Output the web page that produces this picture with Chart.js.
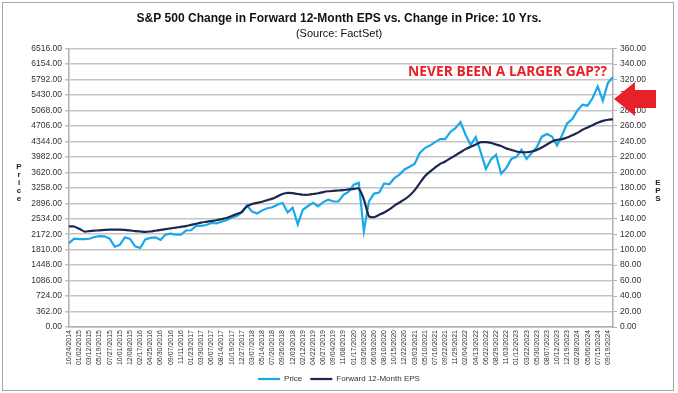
<!DOCTYPE html>
<html>
<head>
<meta charset="utf-8">
<script src="https://cdn.jsdelivr.net/npm/chart.js@4.4.1/dist/chart.umd.min.js"></script>
<style>
  html, body { margin: 0; padding: 0; background: #fff; }
  #wrap { width: 678px; height: 393px; }
</style>
</head>
<body>
<div id="wrap"><canvas id="epsChart" width="678" height="393"></canvas></div>
<script>
// tick labels on the x axis (one every ~48 trading days)
const tickDates = [
  '10/24/2014', '01/02/2015', '03/12/2015', '05/19/2015', '07/27/2015', '10/01/2015',
  '12/08/2015', '02/17/2016', '04/25/2016', '06/30/2016', '09/07/2016', '11/11/2016',
  '01/23/2017', '03/30/2017', '06/07/2017', '08/14/2017', '10/19/2017', '12/27/2017',
  '03/07/2018', '05/14/2018', '07/20/2018', '09/26/2018', '12/03/2018', '02/12/2019',
  '04/22/2019', '06/27/2019', '09/04/2019', '11/08/2019', '01/17/2020', '03/26/2020',
  '06/03/2020', '08/10/2020', '10/15/2020', '12/22/2020', '03/03/2021', '05/10/2021',
  '07/16/2021', '09/22/2021', '11/29/2021', '02/04/2022', '04/13/2022', '06/22/2022',
  '08/29/2022', '11/03/2022', '01/12/2023', '03/22/2023', '05/30/2023', '08/07/2023',
  '10/12/2023', '12/19/2023', '02/28/2024', '05/06/2024', '07/15/2024', '09/19/2024'
];

// two readings per tick interval (at the tick, then half way to the next one)
const priceValues = [
  1964, 2067, 2058, 2055, 2065, 2106, 2127, 2122, 2067, 1880,
  1923, 2102, 2063, 1890, 1850, 2049, 2087, 2099, 2040, 2163,
  2186, 2163, 2164, 2258, 2265, 2367, 2368, 2388, 2434, 2427,
  2465, 2500, 2562, 2600, 2682, 2850, 2700, 2656, 2730, 2780,
  2802, 2862, 2906, 2682, 2790, 2400, 2744, 2832, 2907, 2826,
  2924, 2980, 2937, 2938, 3093, 3168, 3330, 3373, 2240, 2939,
  3122, 3145, 3360, 3341, 3483, 3567, 3687, 3750, 3820, 4074,
  4188, 4247, 4327, 4400, 4395, 4566, 4655, 4796, 4500, 4260,
  4447, 4088, 3700, 3921, 4030, 3586, 3720, 3933, 3983, 4148,
  3937, 4071, 4205, 4455, 4518, 4457, 4250, 4495, 4768, 4865,
  5069, 5205, 5180, 5360, 5631, 5300, 5713, 5850
];

const epsValues = [
  130, 130, 127, 123.5, 124, 124.5, 125, 125.5, 126, 126,
  126, 125.5, 125, 124, 123.5, 123, 123.5, 124.5, 125.5, 126.5,
  127.5, 128.5, 129.5, 130.5, 132, 133.5, 135, 136, 137, 138,
  139.5, 141, 143.5, 146, 149, 156, 159, 160.5, 162, 164,
  166, 169, 172, 173.5, 173, 172, 171, 171, 172, 173,
  174.5, 175.5, 176, 176.5, 177, 178, 178.5, 179, 165, 143,
  142, 145, 148, 152, 157, 161, 165, 170, 177, 186,
  195, 201, 206, 211, 214, 218, 222, 226, 230, 233,
  236, 239, 239, 238, 236, 234, 231, 229, 227, 226,
  226, 227, 229, 232, 236, 240, 242, 243, 245, 248,
  251, 255, 258, 261, 264, 266.5, 268, 268.5
];

const priceMax = 6516;
const priceStep = 362;
const epsMax = 360;
const epsStep = 20;

const categories = priceValues.map((v, i) => (i % 2 === 0 && tickDates[i / 2]) ? tickDates[i / 2] : '');

const FONT = "'Liberation Sans', Arial, sans-serif";

const extras = {
  id: 'extras',
  beforeDraw(chart) {
    const ctx = chart.ctx;
    ctx.save();
    ctx.fillStyle = '#fff';
    ctx.fillRect(0, 0, chart.width, chart.height);
    ctx.strokeStyle = '#a6a6a6';
    ctx.lineWidth = 1;
    ctx.strokeRect(2.5, 2.5, chart.width - 7, chart.height - 5);
    ctx.restore();
  },
  afterDraw(chart) {
    const ctx = chart.ctx;
    const area = chart.chartArea;
    ctx.save();

    // stacked axis titles
    ctx.fillStyle = '#222';
    ctx.font = 'bold 8px ' + FONT;
    ctx.textAlign = 'center';
    ctx.textBaseline = 'middle';
    'Price'.split('').forEach((ch, i) => ctx.fillText(ch, 19, 167 + i * 8));
    'EPS'.split('').forEach((ch, i) => ctx.fillText(ch, 658, 183 + i * 8));

    // note
    ctx.fillStyle = '#e8202a';
    let size = 15;
    ctx.font = 'bold ' + size + "px 'Open Sans', sans-serif";
    const w = ctx.measureText('NEVER BEEN A LARGER GAP??').width;
    size = size * 199 / w;
    ctx.font = 'bold ' + size.toFixed(2) + "px 'Open Sans', sans-serif";
    ctx.textAlign = 'right';
    ctx.fillText('NEVER BEEN A LARGER GAP??', area.right - 6, 72);

    // arrow
    const tipX = area.right + 1;
    const tipY = 99;
    ctx.beginPath();
    ctx.moveTo(tipX, tipY);
    ctx.lineTo(tipX + 21, tipY - 17);
    ctx.lineTo(tipX + 21, tipY - 9);
    ctx.lineTo(tipX + 42, tipY - 9);
    ctx.lineTo(tipX + 42, tipY + 9);
    ctx.lineTo(tipX + 21, tipY + 9);
    ctx.lineTo(tipX + 21, tipY + 17);
    ctx.closePath();
    ctx.fill();

    ctx.restore();
  }
};

new Chart(document.getElementById('epsChart'), {
  type: 'line',
  data: {
    labels: categories,
    datasets: [
      {
        label: 'Price',
        data: priceValues,
        yAxisID: 'y',
        borderColor: '#19a9ea',
        backgroundColor: '#19a9ea',
        borderWidth: 2.2,
        pointRadius: 0,
        tension: 0,
        order: 2,
      },
      {
        label: 'Forward 12-Month EPS',
        data: epsValues,
        yAxisID: 'y1',
        borderColor: '#1c2650',
        backgroundColor: '#1c2650',
        borderWidth: 2.2,
        pointRadius: 0,
        tension: 0.2,
        order: 1,
      },
    ],
  },
  options: {
    responsive: false,
    animation: false,
    devicePixelRatio: 1,
    layout: { padding: { top: 5, bottom: 0, left: 0, right: 0 } },
    plugins: {
      title: {
        display: true,
        text: 'S&P 500 Change in Forward 12-Month EPS vs. Change in Price: 10 Yrs.',
        color: '#111',
        font: { family: FONT, size: 12, weight: 'bold' },
        padding: { top: 6, bottom: 2 },
      },
      subtitle: {
        display: true,
        text: '(Source: FactSet)',
        color: '#111',
        font: { family: FONT, size: 11 },
        padding: { bottom: 8 },
      },
      legend: {
        position: 'bottom',
        labels: {
          usePointStyle: true,
          pointStyle: 'line',
          pointStyleWidth: 22,
          boxHeight: 8,
          padding: 8,
          color: '#333',
          font: { family: FONT, size: 8 },
          sort: (a, b) => a.datasetIndex - b.datasetIndex,
        },
      },
      tooltip: { enabled: false },
    },
    scales: {
      x: {
        ticks: {
          autoSkip: false,
          maxRotation: 90,
          minRotation: 90,
          padding: 3,
          color: '#333',
          font: { family: FONT, size: 7 },
          callback: (value, index) => categories[index],
        },
        grid: { display: false, drawTicks: false },
        border: { color: '#b0b0b0', width: 1.5 },
        afterFit: (scale) => { scale.height = 40; },
      },
      y: {
        position: 'left',
        min: 0,
        max: priceMax,
        ticks: {
          stepSize: priceStep,
          color: '#333',
          padding: 3,
          font: { family: FONT, size: 8.5 },
          callback: (v) => v.toFixed(2),
        },
        grid: { color: '#c4c4c4', lineWidth: 1.5, tickLength: 4 },
        border: { color: '#b0b0b0', width: 1.5 },
        afterFit: (scale) => { scale.width = 69; },
      },
      y1: {
        position: 'right',
        min: 0,
        max: epsMax,
        ticks: {
          stepSize: epsStep,
          color: '#333',
          padding: 3,
          font: { family: FONT, size: 8.5 },
          callback: (v) => v.toFixed(2),
        },
        grid: { drawOnChartArea: false, color: '#b0b0b0', tickLength: 4 },
        border: { color: '#b0b0b0', width: 1.5 },
        afterFit: (scale) => { scale.width = 65; },
      },
    },
  },
  plugins: [extras],
});
</script>
</body>
</html>
